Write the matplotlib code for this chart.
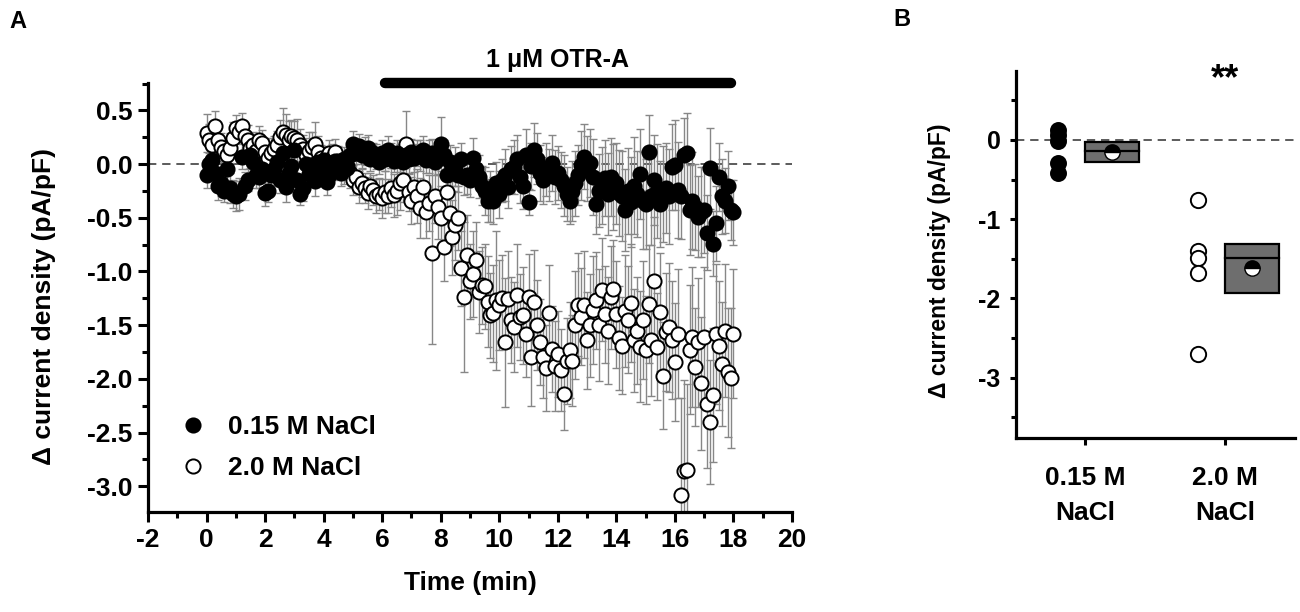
import numpy as np
import matplotlib
matplotlib.use('Agg')
import matplotlib.pyplot as plt
from matplotlib.ticker import MultipleLocator, FixedLocator

plt.rcParams['font.family'] = ['Liberation Sans', 'DejaVu Sans']
plt.rcParams['font.weight'] = 'bold'
plt.rcParams['axes.unicode_minus'] = False

# ---- panel A data: time course, one value every 0.1 min from 0 to 18 min
time_min = np.linspace(0, 18, 181)

# 2.0 M NaCl (open circles)
hi_mean = [
    0.29, 0.22, 0.18, 0.35, 0.22, 0.16, 0.12, 0.08, 0.15, 0.24,
    0.34, 0.30, 0.35, 0.26, 0.22, 0.15, 0.18, 0.12, 0.22, 0.20,
    0.11, 0.06, 0.10, 0.14, 0.18, 0.25, 0.30, 0.27, 0.22, 0.26,
    0.24, 0.22, 0.18, 0.14, 0.08, 0.12, 0.16, 0.19, 0.11, 0.06,
    0.04, 0.07, 0.10, 0.06, 0.11, 0.03, 0.00, -0.04, -0.02, -0.08,
    -0.15, -0.12, -0.21, -0.18, -0.22, -0.27, -0.20, -0.24, -0.30, -0.28,
    -0.32, -0.26, -0.30, -0.22, -0.29, -0.25, -0.18, -0.15, 0.19, -0.26,
    -0.34, -0.21, -0.30, -0.41, -0.21, -0.45, -0.36, -0.83, -0.30, -0.40,
    -0.50, -0.77, -0.26, -0.46, -0.68, -0.57, -0.50, -0.97, -1.24, -0.85,
    -1.09, -1.02, -0.89, -1.19, -1.13, -1.14, -1.28, -1.41, -1.39, -1.27,
    -1.31, -1.25, -1.66, -1.26, -1.45, -1.52, -1.22, -1.42, -1.41, -1.58,
    -1.24, -1.80, -1.28, -1.50, -1.66, -1.80, -1.90, -1.39, -1.72, -1.88,
    -1.77, -1.92, -2.14, -1.83, -1.73, -1.83, -1.50, -1.31, -1.42, -1.31,
    -1.64, -1.50, -1.36, -1.27, -1.50, -1.17, -1.40, -1.55, -1.24, -1.16,
    -1.40, -1.62, -1.69, -1.37, -1.45, -1.29, -1.64, -1.55, -1.70, -1.45,
    -1.73, -1.30, -1.64, -1.09, -1.70, -1.38, -1.97, -1.56, -1.52, -1.64,
    -1.84, -1.58, -3.08, -2.86, -2.85, -1.73, -1.61, -1.89, -1.66, -2.04,
    -1.61, -2.23, -2.40, -2.15, -1.58, -1.69, -1.86, -1.55, -1.94, -1.99,
    -1.58,
]
hi_err = [
    0.18, 0.15, 0.14, 0.14, 0.12, 0.13, 0.10, 0.12, 0.14, 0.15,
    0.12, 0.10, 0.13, 0.12, 0.14, 0.11, 0.12, 0.10, 0.13, 0.12,
    0.12, 0.15, 0.14, 0.12, 0.13, 0.16, 0.22, 0.20, 0.18, 0.15,
    0.16, 0.20, 0.15, 0.13, 0.16, 0.18, 0.14, 0.20, 0.15, 0.12,
    0.12, 0.10, 0.12, 0.13, 0.12, 0.14, 0.12, 0.15, 0.12, 0.14,
    0.14, 0.12, 0.15, 0.13, 0.14, 0.15, 0.12, 0.14, 0.16, 0.15,
    0.18, 0.20, 0.16, 0.18, 0.20, 0.22, 0.25, 0.20, 0.30, 0.18,
    0.22, 0.20, 0.25, 0.28, 0.22, 0.24, 0.26, 0.85, 0.25, 0.30,
    0.30, 0.32, 0.25, 0.30, 0.35, 0.32, 0.30, 0.35, 0.70, 0.38,
    0.35, 0.40, 0.35, 0.38, 0.36, 0.40, 0.42, 0.40, 0.45, 0.65,
    0.42, 0.40, 0.60, 0.45, 0.40, 0.42, 0.48, 0.40, 0.45, 0.40,
    0.40, 0.45, 0.48, 0.42, 0.40, 0.38, 0.40, 0.45, 0.40, 0.42,
    0.40, 0.38, 0.34, 0.40, 0.45, 0.42, 0.50, 0.48, 0.45, 0.50,
    0.45, 0.48, 0.50, 0.45, 0.52, 0.48, 0.45, 0.50, 0.48, 0.45,
    0.50, 0.48, 0.45, 0.52, 0.50, 0.55, 0.48, 0.50, 0.52, 0.55,
    0.50, 0.55, 0.52, 0.60, 0.50, 0.55, 0.50, 0.55, 0.60, 0.55,
    0.55, 0.60, 0.90, 0.85, 0.80, 0.60, 0.65, 0.55, 0.60, 0.62,
    0.65, 0.60, 0.58, 0.62, 0.65, 0.60, 0.58, 0.62, 0.60, 0.65,
    0.60,
]

# 0.15 M NaCl (filled circles)
lo_mean = [
    -0.10, 0.00, 0.04, -0.08, -0.20, -0.18, -0.25, -0.05, -0.22, -0.28,
    -0.30, -0.28, 0.07, -0.20, -0.15, 0.08, 0.02, -0.10, -0.12, -0.05,
    -0.27, -0.25, -0.10, -0.05, 0.02, -0.15, 0.10, -0.21, -0.08, -0.02,
    0.13, -0.15, -0.28, -0.22, 0.00, -0.09, -0.05, -0.16, 0.02, -0.08,
    0.04, -0.17, -0.10, -0.02, 0.03, -0.05, -0.08, 0.05, -0.04, 0.08,
    0.19, 0.10, 0.17, 0.08, 0.12, 0.15, 0.05, 0.10, 0.07, 0.02,
    0.10, 0.05, 0.13, 0.08, 0.03, 0.10, 0.06, 0.02, 0.08, 0.05,
    0.11, 0.06, 0.10, 0.08, 0.13, 0.04, 0.07, 0.10, 0.02, 0.05,
    0.19, 0.08, -0.10, 0.02, -0.06, -0.02, -0.10, 0.05, -0.12, -0.10,
    -0.15, 0.06, -0.05, -0.12, -0.20, -0.25, -0.34, -0.30, -0.34, -0.18,
    -0.28, -0.15, -0.10, -0.21, -0.05, -0.03, 0.05, -0.12, -0.20, 0.08,
    -0.35, -0.02, 0.13, 0.05, -0.08, -0.15, -0.05, -0.10, 0.01, -0.12,
    -0.08, -0.15, -0.20, -0.28, -0.34, -0.25, -0.18, -0.10, -0.01, 0.07,
    -0.04, 0.01, -0.12, -0.37, -0.25, -0.20, -0.13, -0.28, -0.12, -0.21,
    -0.18, -0.27, -0.30, -0.43, -0.25, -0.35, -0.20, -0.28, -0.09, -0.34,
    -0.37, 0.11, -0.30, -0.15, -0.25, -0.37, -0.28, -0.22, -0.30, -0.03,
    -0.01, -0.24, -0.30, 0.08, 0.10, -0.43, -0.34, -0.40, -0.49, -0.45,
    -0.43, -0.64, -0.04, -0.74, -0.55, -0.12, -0.30, -0.34, -0.20, -0.43,
    -0.45,
]
lo_err = [
    0.12, 0.10, 0.12, 0.11, 0.13, 0.12, 0.10, 0.12, 0.14, 0.13,
    0.14, 0.15, 0.12, 0.13, 0.10, 0.12, 0.11, 0.12, 0.10, 0.12,
    0.12, 0.10, 0.12, 0.11, 0.13, 0.12, 0.10, 0.14, 0.12, 0.11,
    0.12, 0.13, 0.10, 0.12, 0.11, 0.12, 0.10, 0.14, 0.12, 0.10,
    0.11, 0.12, 0.10, 0.12, 0.11, 0.10, 0.12, 0.11, 0.10, 0.12,
    0.12, 0.10, 0.11, 0.12, 0.13, 0.12, 0.11, 0.10, 0.12, 0.11,
    0.12, 0.11, 0.13, 0.12, 0.10, 0.12, 0.13, 0.11, 0.12, 0.14,
    0.12, 0.13, 0.12, 0.14, 0.13, 0.12, 0.15, 0.13, 0.12, 0.14,
    0.25, 0.14, 0.15, 0.16, 0.14, 0.18, 0.16, 0.15, 0.17, 0.18,
    0.16, 0.18, 0.15, 0.20, 0.18, 0.22, 0.20, 0.24, 0.22, 0.20,
    0.22, 0.20, 0.24, 0.20, 0.22, 0.25, 0.22, 0.24, 0.22, 0.25,
    0.12, 0.22, 0.25, 0.24, 0.26, 0.22, 0.25, 0.24, 0.26, 0.25,
    0.25, 0.26, 0.28, 0.25, 0.22, 0.28, 0.30, 0.28, 0.32, 0.30,
    0.30, 0.32, 0.35, 0.28, 0.34, 0.36, 0.35, 0.38, 0.36, 0.40,
    0.38, 0.40, 0.42, 0.38, 0.40, 0.42, 0.45, 0.40, 0.42, 0.45,
    0.42, 0.35, 0.45, 0.42, 0.44, 0.40, 0.45, 0.42, 0.44, 0.40,
    0.42, 0.45, 0.40, 0.35, 0.38, 0.42, 0.45, 0.40, 0.38, 0.42,
    0.40, 0.35, 0.38, 0.30, 0.35, 0.32, 0.35, 0.30, 0.32, 0.28,
    0.30,
]

drug_label = '1 μM OTR-A'
drug_on, drug_off = 6.1, 17.9

# ---- panel B data
groups = ['0.15 M\nNaCl', '2.0 M\nNaCl']
cells_015 = [0.13, 0.06, -0.01, -0.29, -0.42]
cells_20 = [-0.76, -1.40, -1.49, -1.68, -2.70]
box_mean = [-0.15, -1.62]
box_top = [-0.02, -1.31]
box_bottom = [-0.28, -1.93]
box_median = [-0.14, -1.49]

# ---------------------------------------------------------------
fig = plt.figure(figsize=(13, 6.12), dpi=100)
axA = fig.add_axes([148/1300, 100/612, 644/1300, 429/612])
axB = fig.add_axes([1016/1300, 174/612, 279/1300, 367/612])

GREY = '#878787'

# PANEL A
axA.axhline(0, color='#404040', lw=1.2, ls=(0, (5, 3.5)), zorder=1)
axA.errorbar(time_min, hi_mean, yerr=hi_err, fmt='none', ecolor=GREY,
             elinewidth=1.0, capsize=3.2, capthick=1.0, zorder=2)
axA.errorbar(time_min, lo_mean, yerr=lo_err, fmt='none', ecolor=GREY,
             elinewidth=1.0, capsize=3.2, capthick=1.0, zorder=2)
h_hi, = axA.plot(time_min, hi_mean, 'o', ls='none', ms=10.2, mfc='white',
                 mec='black', mew=1.4, zorder=3, label='2.0 M NaCl')
h_lo, = axA.plot(time_min, lo_mean, 'o', ls='none', ms=10.2, mfc='black',
                 mec='black', mew=1.4, zorder=4, label='0.15 M NaCl')

axA.set_xlim(-2, 20)
axA.set_ylim(-3.24, 0.755)
axA.xaxis.set_major_locator(MultipleLocator(2))
axA.xaxis.set_minor_locator(MultipleLocator(1))
axA.yaxis.set_major_locator(MultipleLocator(0.5))
axA.yaxis.set_minor_locator(MultipleLocator(0.25))
axA.yaxis.set_major_formatter(plt.FormatStrFormatter('%.1f'))
axA.set_yticks([0.5, 0.0, -0.5, -1.0, -1.5, -2.0, -2.5, -3.0])

# drug bar
axA.plot([drug_on, drug_off], [0.755, 0.755], color='black', lw=7.5,
         solid_capstyle='round', clip_on=False, zorder=5)
axA.text((drug_on + drug_off) / 2, 0.86, drug_label, ha='center', va='bottom',
         fontsize=18, fontweight='bold', clip_on=False)

axA.set_xlabel('Time (min)', fontsize=19, fontweight='bold')
axA.set_ylabel('Δ current density (pA/pF)', fontsize=19, fontweight='bold')
axA.xaxis.set_label_coords(0.5, -0.138)
axA.yaxis.set_label_coords(-0.143, 0.478)

leg = axA.legend(handles=[h_lo, h_hi], loc='lower left',
                 bbox_to_anchor=(0.05, 0.075), frameon=False, fontsize=19,
                 handlelength=1.0, handletextpad=0.8, labelspacing=0.62,
                 borderpad=0, borderaxespad=0)
for txt in leg.get_texts():
    txt.set_fontweight('bold')

# PANEL B
xpos = [1, 2]
axB.axhline(0, color='#404040', lw=1.2, ls=(0, (5, 3.5)), zorder=1)
axB.plot([xpos[0] - 0.195] * len(cells_015), cells_015, 'o', ls='none',
         ms=11, mfc='black', mec='black', mew=1.2, zorder=3)
axB.plot([xpos[1] - 0.195] * len(cells_20), cells_20, 'o', ls='none',
         ms=11, mfc='white', mec='black', mew=1.4, zorder=3)
box_w = 0.385
for i, x in enumerate(xpos):
    axB.bar(x, box_top[i] - box_bottom[i], bottom=box_bottom[i], width=box_w,
            align='edge', color='#6e6e6e', edgecolor='black', lw=1.6, zorder=2)
    axB.plot([x, x + box_w], [box_median[i]] * 2, color='black', lw=1.6, zorder=3)
    axB.plot(x + box_w / 2, box_mean[i], 'o', ms=11, fillstyle='top',
             mfc='black', mfcalt='white', mec='black', mew=1.0, zorder=4)

axB.text(xpos[1], 0.635, '**', ha='center', va='baseline', fontsize=26,
         fontweight='bold', clip_on=False)

axB.set_xlim(0.507, 2.5)
axB.set_ylim(-3.76, 0.87)
axB.set_xticks(xpos)
axB.set_xticklabels(groups, fontsize=19, fontweight='bold', linespacing=1.6)
axB.set_yticks([0, -1, -2, -3])
axB.yaxis.set_minor_locator(FixedLocator([0.5, -0.5, -1.5, -2.5, -3.5]))
axB.set_ylabel('Δ current density (pA/pF)', fontsize=16.5, fontweight='bold')
axB.yaxis.set_label_coords(-0.233, 0.482)

# spines and ticks
for ax in (axA, axB):
    ax.spines['top'].set_visible(False)
    ax.spines['right'].set_visible(False)
    for s in ('left', 'bottom'):
        ax.spines[s].set_linewidth(2.3)
    for lab in ax.get_xticklabels() + ax.get_yticklabels():
        lab.set_fontweight('bold')

axA.tick_params(axis='both', which='major', direction='out', length=7.2,
                width=2.2, labelsize=19, pad=4)
axA.tick_params(axis='both', which='minor', direction='out', length=4.0,
                width=2.2)
axB.tick_params(axis='y', which='major', direction='out', length=4, width=2.2,
                labelsize=18, pad=7)
axB.tick_params(axis='y', which='minor', direction='out', length=3.5, width=2.2)
axB.tick_params(axis='x', which='major', direction='out', length=5, width=2.2,
                labelsize=19, pad=15)

fig.text(9/1300, 1 - 10/612, 'A', fontsize=17, fontweight='bold', va='top')
fig.text(893/1300, 1 - 8/612, 'B', fontsize=17, fontweight='bold', va='top')

fig.savefig('out.png', dpi=100)
